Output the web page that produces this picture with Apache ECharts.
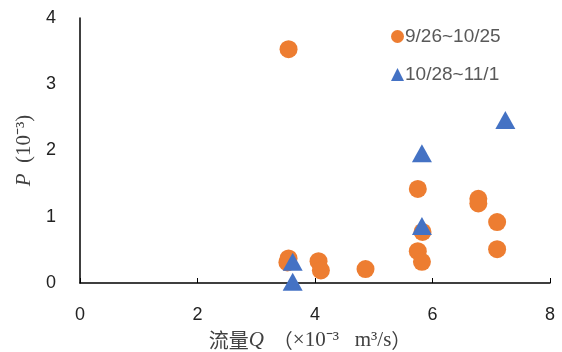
<!DOCTYPE html>
<html><head><meta charset="utf-8">
<script src="https://cdn.jsdelivr.net/npm/echarts@6/dist/echarts.min.js"></script>
<style>html,body{margin:0;padding:0;background:#fff}#c{width:562px;height:352px}</style>
</head><body><div id="c"></div>
<script>
var seriesNames = ['9/26~10/25', '10/28~11/1'];
var seriesA = [[3.55,3.53],[3.55,0.37],[3.53,0.31],[4.06,0.33],[4.1,0.19],[4.86,0.21],[5.75,1.42],[5.83,0.77],[5.75,0.48],[5.82,0.32],[6.78,1.27],[6.78,1.2],[7.1,0.92],[7.1,0.51]];
var seriesB = [[3.62,0.32],[3.62,0.02],[5.82,1.96],[5.82,0.86],[7.24,2.46]];
var xTicks = [0,2,4,6,8];
var yTicks = [0,1,2,3,4];

var chart = echarts.init(document.getElementById('c'));
chart.setOption({
  animation:false,
  grid:{left:80,right:12,top:18,bottom:69,containLabel:false,outerBoundsMode:'none'},
  legend:{
    orient:'vertical', left:386, top:22, itemGap:19, itemWidth:13, itemHeight:13,
    textStyle:{fontFamily:'Liberation Sans',fontSize:19,color:'#595959',padding:[0,0,0,-4]},
    data:[{name:seriesNames[0],icon:'circle'},{name:seriesNames[1],icon:'triangle'}]
  },
  xAxis:{
    type:'value', min:xTicks[0], max:xTicks[xTicks.length-1], interval:2,
    name:'{c|流量}{i|Q}{c|  （}{n|×10⁻³   m³/s}{c|）}', nameLocation:'middle', nameGap:47,
    nameTextStyle:{padding:[0,10,0,0],rich:{
      c:{fontFamily:'Noto Sans CJK SC',fontSize:20,color:'#404040'},
      i:{fontFamily:'Liberation Serif',fontStyle:'italic',fontSize:21,color:'#404040'},
      n:{fontFamily:'Liberation Serif',fontSize:21,color:'#404040'}}},
    axisLine:{lineStyle:{color:'#000',width:1.5}},
    axisTick:{show:true,inside:true,length:5,lineStyle:{color:'#000'}},
    axisLabel:{fontFamily:'Liberation Sans',fontSize:18,color:'#222',margin:23},
    splitLine:{show:false}
  },
  yAxis:{
    type:'value', min:yTicks[0], max:yTicks[yTicks.length-1], interval:1,
    name:'{i|P}{n|  (10⁻³)}', nameLocation:'middle', nameGap:44, nameRotate:90,
    nameTextStyle:{rich:{
      i:{fontFamily:'Liberation Serif',fontStyle:'italic',fontSize:21,color:'#404040'},
      n:{fontFamily:'Liberation Serif',fontSize:21,color:'#404040'}}},
    axisLine:{show:true,lineStyle:{color:'#000',width:1.5}},
    axisTick:{show:false},
    axisLabel:{fontFamily:'Liberation Sans',fontSize:18,color:'#222',margin:24},
    splitLine:{show:false}
  },
  series:[
    {name:seriesNames[0],type:'scatter',symbol:'circle',symbolSize:18,itemStyle:{color:'#ED7D31',opacity:1},data:seriesA},
    {name:seriesNames[1],type:'scatter',symbol:'triangle',symbolSize:[20,18],itemStyle:{color:'#4472C4',opacity:1},data:seriesB}
  ]
});
</script></body></html>
